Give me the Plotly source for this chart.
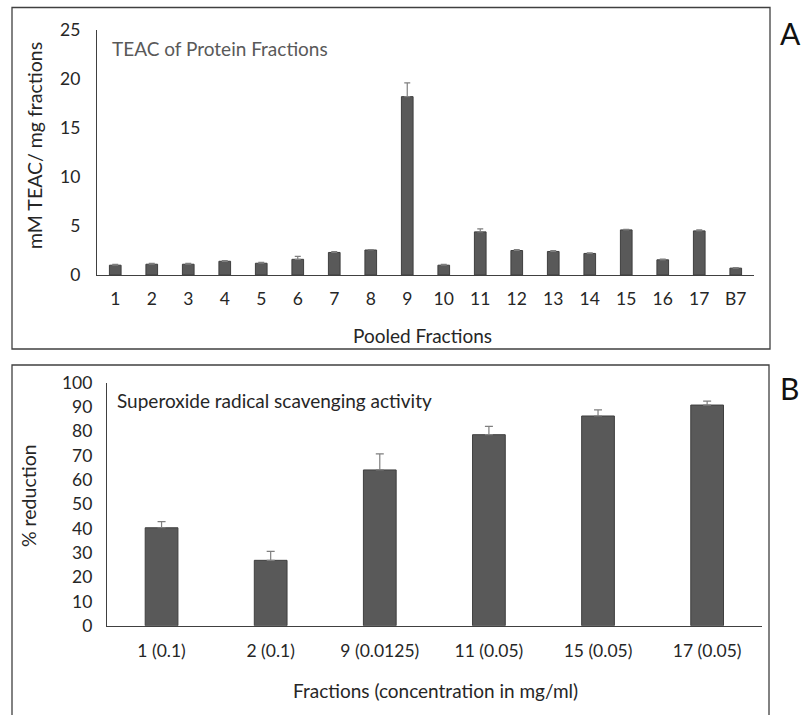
import plotly.graph_objects as go

# ---- Data ----
a_categories = ["1", "2", "3", "4", "5", "6", "7", "8", "9", "10", "11", "12", "13", "14", "15", "16", "17", "B7"]
a_values = [1.0, 1.1, 1.1, 1.4, 1.2, 1.6, 2.3, 2.55, 18.2, 1.0, 4.4, 2.5, 2.4, 2.2, 4.6, 1.55, 4.5, 0.7]
a_errors = [0.08, 0.08, 0.08, 0.08, 0.08, 0.3, 0.1, 0.05, 1.4, 0.08, 0.3, 0.1, 0.1, 0.05, 0.05, 0.08, 0.1, 0.05]

b_categories = ["1 (0.1)", "2 (0.1)", "9 (0.0125)", "11 (0.05)", "15 (0.05)", "17 (0.05)"]
b_values = [40.3, 26.9, 64.1, 78.6, 86.3, 90.8]
b_errors = [2.5, 3.7, 6.6, 3.4, 2.5, 1.6]

W, H = 802, 715
def px(x):
    return x / W
def py(y):
    return 1 - y / H

FONT = "Lato, Carlito, Calibri, sans-serif"
BAR = "#595959"
TXT = "#262626"

fig = go.Figure()
fig.add_trace(go.Bar(
    x=a_categories, y=a_values, xaxis="x", yaxis="y",
    marker=dict(color=BAR, line=dict(color="#3f3f3f", width=1)),
    width=0.32,
    error_y=dict(type="data", array=a_errors, arrayminus=[0] * len(a_errors), symmetric=False,
                 color="#7f7f7f", thickness=1.2, width=3),
    showlegend=False,
))
fig.add_trace(go.Bar(
    x=b_categories, y=b_values, xaxis="x2", yaxis="y2",
    marker=dict(color=BAR, line=dict(color="#3f3f3f", width=1)),
    width=0.3,
    error_y=dict(type="data", array=b_errors, arrayminus=[0] * len(b_errors), symmetric=False,
                 color="#7f7f7f", thickness=1.2, width=4),
    showlegend=False,
))

axis_common = dict(showgrid=False, zeroline=False, showline=True, linecolor="#404040", linewidth=1.3,
                   automargin=False,
                   tickfont=dict(family=FONT, size=17.5, color=TXT), fixedrange=True)

fig.update_layout(
    width=W, height=H,
    margin=dict(l=0, r=0, t=0, b=0, autoexpand=False),
    paper_bgcolor="white", plot_bgcolor="white",
    font=dict(family=FONT, color=TXT),
    xaxis=dict(domain=[px(97), px(754)], anchor="y", type="category",
               ticks="outside", ticklen=8, tickcolor="rgba(0,0,0,0)", **axis_common),
    yaxis=dict(domain=[py(275), py(30)], anchor="x", range=[0, 25], dtick=5,
               ticks="outside", ticklen=12, tickcolor="rgba(0,0,0,0)", **axis_common),
    xaxis2=dict(domain=[px(107), px(761.7)], anchor="y2", type="category",
                ticks="outside", ticklen=9, tickcolor="rgba(0,0,0,0)", **axis_common),
    yaxis2=dict(domain=[py(625.7), py(382.7)], anchor="x2", range=[0, 100], dtick=10,
                ticks="outside", ticklen=10, tickcolor="rgba(0,0,0,0)", **axis_common),
)

# panel frames (panel B's bottom edge runs off the page)
fig.add_shape(type="rect", xref="paper", yref="paper", x0=px(12), x1=px(770), y0=py(349), y1=py(7.5),
              line=dict(color="#404040", width=1.3))
fig.add_shape(type="rect", xref="paper", yref="paper", x0=px(12), x1=px(769), y0=py(722), y1=py(365),
              line=dict(color="#404040", width=1.3))

annots = [
    dict(x=px(110), y=py(48), text="TEAC of Protein Fractions", xanchor="left", size=19, color="#595959"),
    dict(x=px(115), y=py(400), text="Superoxide radical scavenging activity", xanchor="left", size=19, color=TXT),
    dict(x=px(423), y=py(335), text="Pooled Fractions", xanchor="center", size=19, color=TXT),
    dict(x=px(435), y=py(690), text="Fractions (concentration in mg/ml)", xanchor="center", size=19, color=TXT),
    dict(x=px(790), y=py(33), text="A", xanchor="center", size=30, color="#111"),
    dict(x=px(789), y=py(388), text="B", xanchor="center", size=30, color="#111"),
]
for a in annots:
    fig.add_annotation(x=a["x"], y=a["y"], xref="paper", yref="paper", text=a["text"], showarrow=False,
                       xanchor=a["xanchor"], yanchor="middle",
                       font=dict(family=FONT, size=a["size"], color=a["color"]))

fig.add_annotation(x=px(34), y=py(146), xref="paper", yref="paper", text="mM TEAC/ mg fractions",
                   showarrow=False, textangle=-90, xanchor="center", yanchor="middle",
                   font=dict(family=FONT, size=19.5, color=TXT))
fig.add_annotation(x=px(29), y=py(496), xref="paper", yref="paper", text="% reduction",
                   showarrow=False, textangle=-90, xanchor="center", yanchor="middle",
                   font=dict(family=FONT, size=19.5, color=TXT))

# remove the default page margin so the 802x715 figure fills the window exactly
fig.write_html("out.html", config={"displayModeBar": False},
               post_script="document.body.style.margin='0';document.body.style.overflow='hidden';")
